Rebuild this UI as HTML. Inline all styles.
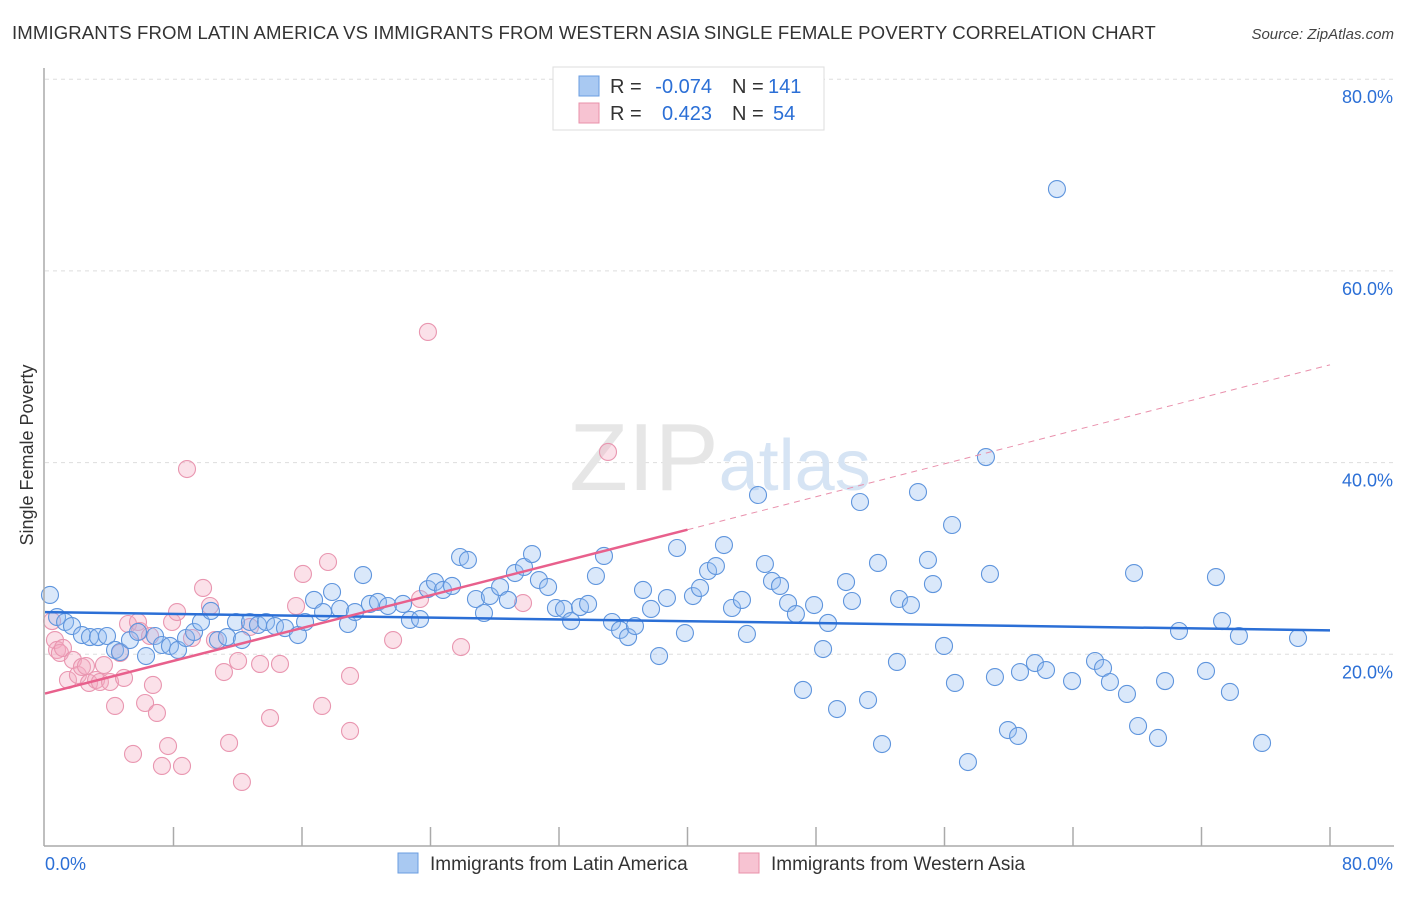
<!DOCTYPE html>
<html><head><meta charset="utf-8"><style>
body{margin:0;background:#fff;font-family:"Liberation Sans",sans-serif}
svg text{font-family:"Liberation Sans",sans-serif}
</style></head><body>
<svg id="chart" width="1406" height="892" xmlns="http://www.w3.org/2000/svg">
<text x="12" y="39" font-size="18.6" fill="#333" letter-spacing="0.1">IMMIGRANTS FROM LATIN AMERICA VS IMMIGRANTS FROM WESTERN ASIA SINGLE FEMALE POVERTY CORRELATION CHART</text>
<text x="1394" y="39" font-size="15" fill="#444" text-anchor="end" font-style="italic">Source: ZipAtlas.com</text>
<g id="grid"></g>
<text x="720" y="490" font-size="96" fill="#e6e6e6" text-anchor="middle" font-family="Liberation Serif">ZIP<tspan fill="#d6e4f4" font-family="Liberation Sans" font-size="72">atlas</tspan></text>
<g id="pts"></g>
<g id="lines"></g>
<g id="axes"></g>
<text transform="translate(33,455) rotate(-90)" font-size="18" fill="#333" text-anchor="middle">Single Female Poverty</text>
<g>
<rect x="553" y="67" width="271" height="63" fill="#fff" stroke="#ddd"/>
<rect x="579" y="76" width="20" height="20" fill="#a9c9f2" stroke="#6a9de0"/>
<rect x="579" y="103" width="20" height="20" fill="#f7c3d2" stroke="#e890aa"/>
<text x="610" y="93" font-size="20" fill="#333">R =</text>
<text x="712" y="93" font-size="20" fill="#2b6fd6" text-anchor="end">-0.074</text>
<text x="732" y="93" font-size="20" fill="#333">N =</text>
<text x="768" y="93" font-size="20" fill="#2b6fd6">141</text>
<text x="610" y="120" font-size="20" fill="#333">R =</text>
<text x="712" y="120" font-size="20" fill="#2b6fd6" text-anchor="end">0.423</text>
<text x="732" y="120" font-size="20" fill="#333">N =</text>
<text x="773" y="120" font-size="20" fill="#2b6fd6">54</text>
</g>
<g>
<rect x="398" y="853" width="20" height="20" fill="#a9c9f2" stroke="#6a9de0"/>
<text x="430" y="870" font-size="19" fill="#333">Immigrants from Latin America</text>
<rect x="739" y="853" width="20" height="20" fill="#f7c3d2" stroke="#e890aa"/>
<text x="771" y="870" font-size="19" fill="#333">Immigrants from Western Asia</text>
</g>
</svg>
<script>
const bluePx=[[50,595],[57,617],[65,622],[72,626],[82,635],[90,637],[98,637],[107,636],[115,650],[120,652],[130,640],[138,632],[146,656],[155,636],[162,645],[170,646],[178,650],[186,638],[194,632],[201,622],[211,611],[218,640],[227,637],[236,622],[242,640],[250,622],[258,625],[266,622],[275,626],[285,628],[298,635],[305,622],[314,600],[323,612],[332,592],[340,609],[348,624],[355,612],[363,575],[370,604],[378,602],[388,606],[403,604],[410,620],[420,619],[428,589],[435,582],[443,590],[452,586],[460,557],[468,560],[476,599],[484,613],[490,596],[500,587],[508,600],[515,573],[524,567],[532,554],[539,580],[548,587],[556,608],[564,609],[571,621],[580,607],[588,604],[596,576],[604,556],[612,622],[620,630],[628,637],[635,626],[643,590],[651,609],[659,656],[667,598],[677,548],[685,633],[693,596],[700,588],[708,571],[716,566],[724,545],[732,608],[742,600],[747,634],[758,495],[765,564],[772,581],[780,586],[788,603],[796,614],[803,690],[814,605],[823,649],[828,623],[837,709],[846,582],[852,601],[860,502],[868,700],[878,563],[882,744],[897,662],[899,599],[911,605],[918,492],[928,560],[933,584],[944,646],[952,525],[955,683],[968,762],[986,457],[990,574],[995,677],[1008,730],[1018,736],[1020,672],[1035,663],[1046,670],[1057,189],[1072,681],[1095,661],[1103,668],[1110,682],[1127,694],[1134,573],[1138,726],[1158,738],[1165,681],[1179,631],[1206,671],[1216,577],[1222,621],[1230,692],[1239,636],[1262,743],[1298,638]];
const pinkPx=[[52,621],[55,640],[57,650],[60,653],[63,648],[68,680],[73,660],[78,675],[82,667],[86,666],[89,683],[96,680],[100,682],[104,665],[110,682],[115,706],[120,653],[124,678],[128,624],[133,754],[138,622],[140,631],[145,703],[150,636],[153,685],[157,713],[162,766],[168,746],[172,622],[177,612],[182,766],[187,469],[192,638],[203,588],[210,606],[215,640],[224,672],[229,743],[238,661],[242,782],[250,627],[260,664],[270,718],[280,664],[296,606],[303,574],[322,706],[328,562],[350,676],[350,731],[393,640],[420,599],[428,332],[461,647],[523,603],[608,452]];
const r2=v=>Math.round(v*100)/100;
const blueX=bluePx.map(p=>r2((p[0]-45)/1285*80)), blueY=bluePx.map(p=>r2((846-p[1])/191.7*20));
const pinkX=pinkPx.map(p=>r2((p[0]-45)/1285*80)), pinkY=pinkPx.map(p=>r2((846-p[1])/191.7*20));
const yTicks=[20,40,60,80];
const yTickLabels=["20.0%","40.0%","60.0%","80.0%"];
const blueTrend=[[0,24.4],[80,22.5]];
const pinkTrend=[[0,15.9],[40,33.0],[80,50.2]];
const sx=v=>45+v/80*1285, sy=v=>846-v/20*191.7;
const NS="http://www.w3.org/2000/svg";
function mk(t,a,parent){const e=document.createElementNS(NS,t);for(const k in a)e.setAttribute(k,a[k]);parent.appendChild(e);return e;}
const grid=document.getElementById('grid'),axes=document.getElementById('axes'),pts=document.getElementById('pts'),lines=document.getElementById('lines');
yTicks.forEach((t,i)=>{
 const g=mk('line',{x1:45,x2:1394,y1:sy(t),y2:sy(t),stroke:'#ddd','stroke-dasharray':'4,4'},grid);
 
 
 const l=mk('text',{x:1393,y:sy(t)+24,'font-size':18,fill:'#2b6fd6','text-anchor':'end'},axes);l.textContent=yTickLabels[i];
 
 
});
mk('line',{x1:44,x2:44,y1:68,y2:846,stroke:'#aaa','stroke-width':1.5},axes);
mk('line',{x1:44,x2:1394,y1:846,y2:846,stroke:'#aaa','stroke-width':1.5},axes);
for(let i=1;i<=10;i++){const x=sx(i*8);mk('line',{x1:x,x2:x,y1:827,y2:846,stroke:'#aaa','stroke-width':1.5},axes);}
let t=mk('text',{x:45,y:870,'font-size':18,fill:'#2b6fd6'},axes);t.textContent='0.0%';


t=mk('text',{x:1393,y:870,'font-size':18,fill:'#2b6fd6','text-anchor':'end'},axes);t.textContent='80.0%';


pinkX.forEach((x,i)=>{const c=mk('circle',{cx:sx(x),cy:sy(pinkY[i]),r:8.5,fill:'rgba(244,170,192,0.35)',stroke:'#e996b0','stroke-width':1.1},pts);
 
 });
blueX.forEach((x,i)=>{const c=mk('circle',{cx:sx(x),cy:sy(blueY[i]),r:8.5,fill:'rgba(150,190,240,0.35)',stroke:'#5f95dd','stroke-width':1.1},pts);
 
 });
let ln=mk('line',{x1:sx(blueTrend[0][0]),y1:sy(blueTrend[0][1]),x2:sx(blueTrend[1][0]),y2:sy(blueTrend[1][1]),stroke:'#2b6fd6','stroke-width':2.5},lines);


ln=mk('line',{x1:sx(pinkTrend[0][0]),y1:sy(pinkTrend[0][1]),x2:sx(pinkTrend[1][0]),y2:sy(pinkTrend[1][1]),stroke:'#e8608c','stroke-width':2.5},lines);


ln=mk('line',{x1:sx(pinkTrend[1][0]),y1:sy(pinkTrend[1][1]),x2:sx(pinkTrend[2][0]),y2:sy(pinkTrend[2][1]),stroke:'#e990ac','stroke-width':1,'stroke-dasharray':'6,5'},lines);


</script>
</body></html>
